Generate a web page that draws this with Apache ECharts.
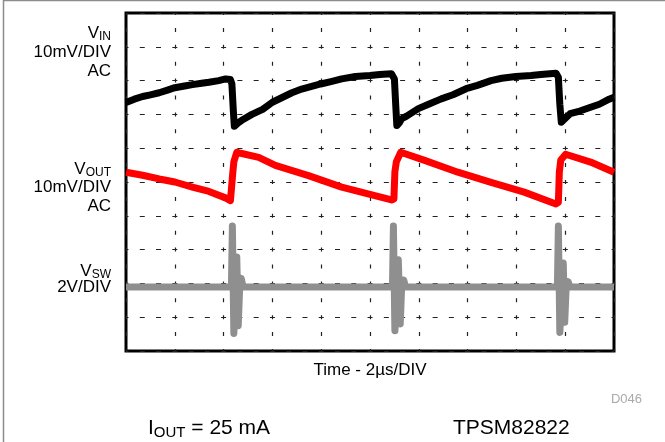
<!DOCTYPE html>
<html>
<head>
<meta charset="utf-8">
<title>TPSM82822 waveforms</title>
<script src="https://cdn.jsdelivr.net/npm/echarts@6/dist/echarts.min.js"></script>
<style>
  html, body { margin: 0; padding: 0; background: #fff; }
  #chart { width: 665px; height: 442px; }
</style>
</head>
<body>
<div id="chart"></div>
<script>
// scope screen: x = time in us (2us/DIV, 10 DIV), y = screen divisions (0 bottom .. 10 top)
var vinTrace = [
  [0, 7.35], [0.34, 7.45], [0.68, 7.53], [1.0, 7.58], [1.36, 7.64], [1.7, 7.72], [2.0, 7.79],
  [2.4, 7.84], [2.72, 7.88], [3.1, 7.92], [3.4, 7.95], [3.8, 8.0], [4.08, 8.05], [4.28, 8.03],
  [4.34, 7.9], [4.4, 7.1], [4.44, 6.65], [4.5, 6.6], [4.6, 6.75], [4.8, 6.85], [5.16, 7.0],
  [5.6, 7.15], [6.0, 7.36], [6.4, 7.5], [6.8, 7.64], [7.2, 7.75], [7.98, 7.9], [8.4, 7.97],
  [8.84, 8.05], [9.4, 8.12], [10.0, 8.15], [10.4, 8.18], [10.88, 8.2], [11.0, 8.05],
  [11.06, 7.2], [11.1, 6.67], [11.2, 6.75], [11.3, 6.87], [11.5, 6.95], [11.98, 7.17],
  [12.4, 7.3], [12.92, 7.46], [13.4, 7.58], [13.94, 7.76], [14.4, 7.86], [14.96, 8.0],
  [15.4, 8.07], [15.98, 8.12], [16.6, 8.15], [17.0, 8.18], [17.62, 8.22], [17.72, 8.1],
  [17.78, 7.3], [17.84, 6.77], [17.92, 6.8], [18.2, 7.02], [18.6, 7.1], [19.04, 7.21],
  [19.4, 7.3], [19.8, 7.45], [20, 7.51]
];

var voutTrace = [
  [0, 5.29], [0.68, 5.2], [1.36, 5.09], [2.0, 5.0], [2.72, 4.85], [3.4, 4.72], [4.08, 4.53],
  [4.28, 4.45], [4.34, 4.5], [4.38, 5.3], [4.42, 5.6], [4.46, 5.55], [4.54, 5.88], [4.7, 5.85],
  [5.44, 5.73], [6.12, 5.49], [7.48, 5.19], [8.84, 4.85], [10.2, 4.6], [10.88, 4.47],
  [10.98, 4.5], [11.02, 5.3], [11.08, 5.6], [11.14, 5.55], [11.26, 5.88], [12.24, 5.64],
  [13.6, 5.29], [14.96, 4.99], [16.32, 4.7], [17.62, 4.35], [17.72, 4.4], [17.76, 5.3],
  [17.82, 5.65], [17.9, 5.6], [18.02, 5.82], [19.04, 5.59], [20, 5.29]
];

var vswTrace = [
  [0, 1.89], [4.32, 1.89], [4.36, 3.7], [4.42, 0.52], [4.48, 1.6], [4.54, 2.78], [4.6, 0.75],
  [4.66, 1.9], [4.72, 2.15], [4.8, 1.89], [10.92, 1.89], [10.96, 3.7], [11.02, 0.6],
  [11.1, 1.7], [11.16, 2.7], [11.24, 0.8], [11.3, 1.95], [11.38, 2.1], [11.46, 1.89],
  [17.68, 1.89], [17.72, 3.7], [17.78, 0.55], [17.86, 1.6], [17.92, 2.6], [17.98, 0.85],
  [18.04, 1.9], [18.12, 2.05], [18.2, 1.89], [20, 1.89]
];

var timeLabel = 'Time - 2µs/DIV';
var conditionText = ['I', 'OUT', ' = 25 mA'];
var deviceText = 'TPSM82822';
var figureId = 'D046';

var FONT = '"Liberation Sans", Arial, Helvetica, sans-serif';

var myChart = echarts.init(document.getElementById('chart'));

function chanName(main, sub, y) {
  return {
    type: 'text', x: 111, y: y,
    style: {
      text: '{v|' + main + '}{s|' + sub + '}',
      align: 'right', verticalAlign: 'middle',
      rich: {
        v: { fontSize: 17, fontFamily: FONT, fill: '#000', lineHeight: 20 },
        s: { fontSize: 12, fontFamily: FONT, fill: '#000', lineHeight: 12, verticalAlign: 'bottom' }
      }
    }
  };
}
function plainText(txt, x, y, size, align, color) {
  return {
    type: 'text', x: x, y: y,
    style: {
      text: txt, fontSize: size, fontFamily: FONT, fill: color || '#000',
      align: align, verticalAlign: 'middle'
    }
  };
}

var option = {
  animation: false,
  backgroundColor: '#fff',
  grid: {
    left: 126, top: 13, width: 488, height: 338,
    show: true, borderColor: '#000', borderWidth: 3, backgroundColor: '#fff'
  },
  xAxis: {
    type: 'value', min: 0, max: 20, interval: 2,
    axisLine: { show: false }, axisTick: { show: false }, axisLabel: { show: false },
    splitLine: { show: true, lineStyle: { color: '#222', width: 1.2, type: [4, 12.9], dashOffset: 2 } }
  },
  yAxis: {
    type: 'value', min: 0, max: 10, interval: 1,
    axisLine: { show: false }, axisTick: { show: false }, axisLabel: { show: false },
    splitLine: { show: true, lineStyle: { color: '#222', width: 1.2, type: [5, 11.27], dashOffset: 2.5 } }
  },
  series: [
    {
      name: 'VSW', type: 'line', data: vswTrace, symbol: 'none', clip: true,
      lineStyle: { color: '#8f8f8f', width: 7, join: 'round' }
    },
    {
      name: 'VOUT', type: 'line', data: voutTrace, symbol: 'none', clip: true,
      lineStyle: { color: '#ff0000', width: 7, join: 'round' }
    },
    {
      name: 'VIN', type: 'line', data: vinTrace, symbol: 'none', clip: true,
      lineStyle: { color: '#000', width: 7, join: 'round' }
    }
  ],
  graphic: [
    {
      type: 'polyline',
      shape: { points: [[3.5, 442], [3.5, 0.5], [665, 0.5]] },
      style: { stroke: '#8c8c8c', lineWidth: 1.5, fill: null }
    },
    chanName('V', 'IN', 33),
    plainText('10mV/DIV', 111, 52.5, 17, 'right'),
    plainText('AC', 111, 71, 17, 'right'),
    chanName('V', 'OUT', 169),
    plainText('10mV/DIV', 111, 187.5, 17, 'right'),
    plainText('AC', 111, 206.5, 17, 'right'),
    chanName('V', 'SW', 271),
    plainText('2V/DIV', 111, 287.5, 17, 'right'),
    plainText(timeLabel, 370, 370, 17, 'center'),
    plainText(figureId, 642, 399.5, 13, 'right', '#aaa'),
    {
      type: 'text', x: 148, y: 428,
      style: {
        text: '{m|' + conditionText[0] + '}{s|' + conditionText[1] + '}{m|' + conditionText[2] + '}',
        align: 'left', verticalAlign: 'middle',
        rich: {
          m: { fontSize: 21, fontFamily: FONT, fill: '#000', lineHeight: 24 },
          s: { fontSize: 15, fontFamily: FONT, fill: '#000', lineHeight: 15, verticalAlign: 'bottom' }
        }
      }
    },
    plainText(deviceText, 453, 428, 21, 'left')
  ]
};

myChart.setOption(option);
</script>
</body>
</html>
